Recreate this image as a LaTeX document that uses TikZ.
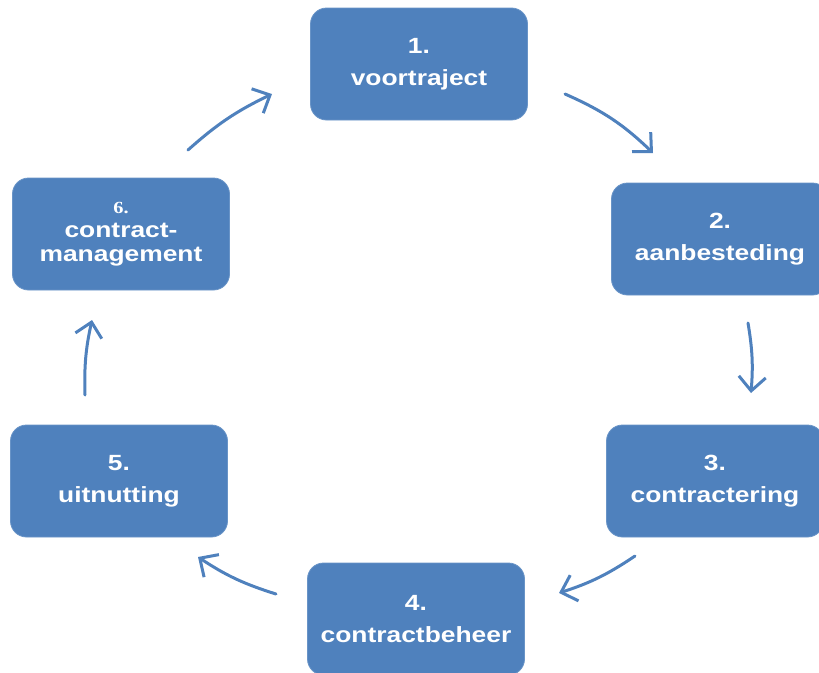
\documentclass[tikz,border=0pt]{standalone}
\usepackage{fontspec}
\setmainfont{Liberation Sans}
\newfontfamily\boxfont[FakeStretch=1.2]{Liberation Sans}
\newfontfamily\numfont[FakeStretch=1.2]{Liberation Serif}
\usetikzlibrary{arrows.meta}
\definecolor{boxblue}{RGB}{79,129,189}
\begin{document}
\begin{tikzpicture}[x=1pt,y=-1pt,
  stepbox/.style={fill=boxblue, draw=boxblue!85!white, line width=0.8pt, rounded corners=16pt,
    minimum width=217pt, minimum height=112pt, inner sep=0pt, text=white,
    align=center, font=\boxfont\bfseries\fontsize{22}{32}\selectfont},
  cyc/.style={draw=boxblue, line width=3pt, line cap=round,
    -{Straight Barb[length=14pt,width=27pt,line width=3pt]}}]
\useasboundingbox (0,0) rectangle (819,672);
\node[stepbox] (n1) at (419,64) {1.\\voortraject};
\node[stepbox] (n2) at (720,239) {2.\\aanbesteding};
\node[stepbox] (n3) at (715,481) {3.\\contractering};
\node[stepbox] (n4) at (416,619) {4.\\contractbeheer};
\node[stepbox] (n5) at (119,481) {5.\\uitnutting};
\node[stepbox, font=\boxfont\bfseries\fontsize{22}{24}\selectfont] (n6) at (121,234)
  {{\numfont\bfseries\fontsize{17}{28}\selectfont 6.}\\contract-\\management};
\coordinate (a1s) at (565,94);  \coordinate (a1e) at (653,153);
\coordinate (a2s) at (748,323); \coordinate (a2e) at (751,393);
\coordinate (a3s) at (635,556); \coordinate (a3e) at (559,593);
\coordinate (a4s) at (276,594); \coordinate (a4e) at (198,557);
\coordinate (a5s) at (85,395);  \coordinate (a5e) at (92,320);
\coordinate (a6s) at (188,150); \coordinate (a6e) at (272,94);
\draw[cyc] (a1s) to[bend left=10] (a1e);
\draw[cyc] (a2s) to[bend left=7] (a2e);
\draw[cyc] (a3s) to[bend left=8] (a3e);
\draw[cyc] (a4s) to[bend left=8] (a4e);
\draw[cyc] (a5s) to[bend left=7] (a5e);
\draw[cyc] (a6s) to[bend left=8] (a6e);
\end{tikzpicture}
\end{document}
